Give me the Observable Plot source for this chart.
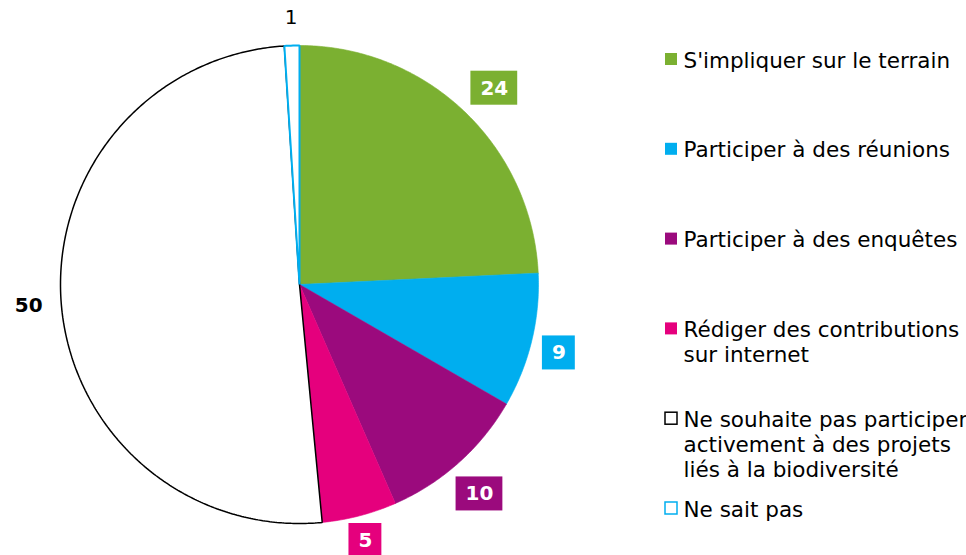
<!DOCTYPE html>
<html>
<head>
<meta charset="utf-8">
<script src="https://cdn.jsdelivr.net/npm/d3@7"></script>
<script src="https://cdn.jsdelivr.net/npm/@observablehq/plot@0.6"></script>
<style>
  html, body { margin: 0; padding: 0; background: #fff; }
  #chart { width: 966px; height: 555px; }
</style>
</head>
<body>
<div id="chart"></div>
<script>
// ---- data ----
const categories = [
  "S'impliquer sur le terrain",
  "Participer à des réunions",
  "Participer à des enquêtes",
  "Rédiger des contributions\nsur internet",
  "Ne souhaite pas participer\nactivement à des projets\nliés à la biodiversité",
  "Ne sait pas"
];
const values = [24, 9, 10, 5, 50, 1];

// ---- styling (palette) ----
const fills   = ["#7BB031", "#00AEEF", "#9B0A7D", "#E5007D", "#FFFFFF", "#FFFFFF"];
const outline = ["#7BB031", "#00AEEF", "#9B0A7D", "#E5007D", "#000000", "#00AEEF"];
const boxed   = [true, true, true, true, false, false];
const boldLbl = [true, true, true, true, true, false];

// ---- layout ----
const W = 966, H = 555;
const cx = 299, cy = 284, R = 239;

const arcs = d3.pie().sort(null).value(d => d)(values);

// slice polygons (tessellated arcs)
const slices = arcs.map((a, i) => {
  const pts = [{x: cx, y: cy, i}];
  const n = Math.max(2, Math.ceil((a.endAngle - a.startAngle) / 0.01));
  for (let k = 0; k <= n; k++) {
    const t = a.startAngle + (a.endAngle - a.startAngle) * k / n;
    pts.push({x: cx + R * Math.sin(t), y: cy - R * Math.cos(t), i});
  }
  return pts;
});

// label placement (outside end)
const labels = arcs.map((a, i) => {
  const m = (a.startAngle + a.endAngle) / 2 + (boxed[i] ? 0.02 : 0);
  const txt = String(values[i]);
  const cw = boldLbl[i] ? 13.9 : 12.7;
  const tw = txt.length * cw;
  const w = boxed[i] ? (tw + 19) / 2 : tw / 2;
  const h = boxed[i] ? 17 : 10;
  const gap = boxed[i] ? 9 : 18;
  const d = R + gap + Math.abs(Math.sin(m)) * w + Math.abs(Math.cos(m)) * h;
  let x = cx + d * Math.sin(m), y = cy - d * Math.cos(m);
  const yMax = H - 15;
  if (y > yMax) {
    y = yMax;
    const dy = y - cy;
    const dd = d - 4;
    x = cx + Math.sign(Math.sin(m)) * Math.sqrt(Math.max(0, dd * dd - dy * dy));
  }
  return {x, y, w, h, txt, i};
});

// legend
const LH = 25;
const legend = categories.map((c, i) => {
  const lines = c.split("\n").length;
  const y0 = 59 + i * 89.8;
  return {c, i, y0, yc: y0 + (lines - 1) * LH / 2};
});

const marks = [];
slices.forEach((pts, i) => {
  marks.push(Plot.line(pts, {
    x: "x", y: "y", curve: "linear-closed",
    fill: fills[i], stroke: outline[i],
    strokeWidth: i >= 4 ? (i === 5 ? 2 : 1.5) : 0.6,
    strokeLinejoin: "miter"
  }));
});
const boxes = labels.filter(l => boxed[l.i]);
marks.push(Plot.rect(boxes, {
  x1: d => d.x - d.w, x2: d => d.x + d.w,
  y1: d => d.y - d.h, y2: d => d.y + d.h,
  fill: d => fills[d.i]
}));
marks.push(Plot.text(labels.filter(l => boldLbl[l.i]), {
  x: "x", y: "y", text: "txt", fontSize: 20, fontWeight: "bold",
  fill: d => boxed[d.i] ? "#fff" : "#000"
}));
marks.push(Plot.text(labels.filter(l => !boldLbl[l.i]), {
  x: "x", y: "y", text: "txt", fontSize: 20, fill: "#000"
}));
// legend swatches
marks.push(Plot.rect(legend, {
  x1: 665, x2: 677,
  y1: d => d.y0 - 6, y2: d => d.y0 + 6,
  fill: d => fills[d.i],
  stroke: d => d.i >= 4 ? outline[d.i] : "none",
  strokeWidth: 1.5, inset: 0
}));
marks.push(Plot.text(legend, {
  x: 683, y: "yc", text: "c", textAnchor: "start",
  fontSize: 21.5, lineHeight: LH / 21.5, fill: "#000"
}));

const chart = Plot.plot({
  width: W, height: H,
  margin: 0,
  x: {type: "linear", domain: [0, W], range: [0, W], axis: null},
  y: {type: "linear", domain: [0, H], range: [0, H], axis: null},
  color: {type: "identity"},
  style: {fontFamily: "'DejaVu Sans', Verdana, sans-serif", background: "#fff", overflow: "visible"},
  marks
});
document.getElementById("chart").appendChild(chart);
</script>
</body>
</html>
